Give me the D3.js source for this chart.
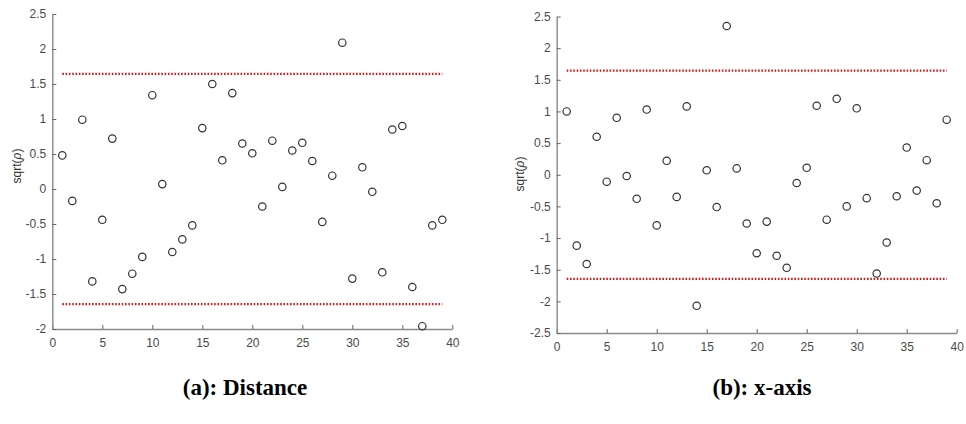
<!DOCTYPE html>
<html>
<head>
<meta charset="utf-8">
<script src="https://cdn.jsdelivr.net/npm/d3@7"></script>
<style>
  html, body { margin: 0; padding: 0; background: #fff; }
  svg { display: block; }
</style>
</head>
<body>
<svg id="fig" width="966" height="424"></svg>
<script>
// Observation index (1..39) shared by both panels
const idx = d3.range(1, 40);

// Panel (a): Distance
const distanceVals = [
  0.48, -0.17, 0.99, -1.32, -0.44, 0.72, -1.43, -1.21, -0.97, 1.34,
  0.07, -0.90, -0.72, -0.52, 0.87, 1.50, 0.41, 1.37, 0.65, 0.51,
  -0.25, 0.69, 0.03, 0.55, 0.66, 0.40, -0.47, 0.19, 2.09, -1.28,
  0.31, -0.04, -1.19, 0.85, 0.90, -1.40, -1.96, -0.52, -0.44
];

// Panel (b): x-axis
const xAxisVals = [
  1.00, -1.12, -1.41, 0.60, -0.11, 0.90, -0.02, -0.38, 1.03, -0.80,
  0.22, -0.35, 1.08, -2.07, 0.07, -0.51, 2.35, 0.10, -0.77, -1.24,
  -0.74, -1.28, -1.47, -0.13, 0.11, 1.09, -0.71, 1.20, -0.50, 1.05,
  -0.37, -1.56, -1.07, -0.34, 0.43, -0.25, 0.23, -0.45, 0.87
];

// Control limits (±1.645) drawn from x = 1 to x = 39
const limits = [1.645, -1.645];
const limitSpan = [1, 39];

const xTicks = [0, 5, 10, 15, 20, 25, 30, 35, 40];
const yTicksA = [-2, -1.5, -1, -0.5, 0, 0.5, 1, 1.5, 2, 2.5];
const yTicksB = [-2.5, -2, -1.5, -1, -0.5, 0, 0.5, 1, 1.5, 2, 2.5];

const captions = ["(a): Distance", "(b): x-axis"];

const svg = d3.select("#fig");

const panels = [
  { vals: distanceVals, yDomain: [-2, 2.5], yTicks: yTicksA, caption: captions[0],
    x0: 52.3, x1: 452.3, yBot: 329, yTop: 14, labelX: 21, labelY: 166, capX: 245 },
  { vals: xAxisVals, yDomain: [-2.5, 2.5], yTicks: yTicksB, caption: captions[1],
    x0: 556.7, x1: 956.7, yBot: 333, yTop: 16.5, labelX: 524, labelY: 174, capX: 762 }
];

const fmt = d => String(d);

panels.forEach(p => {
  const x = d3.scaleLinear().domain([0, 40]).range([p.x0, p.x1]);
  const y = d3.scaleLinear().domain(p.yDomain).range([p.yBot, p.yTop]);
  const g = svg.append("g");

  // Axes: MATLAB-style inward ticks, left and bottom only
  const ax = g.append("g")
    .attr("transform", `translate(0,${p.yBot})`)
    .call(d3.axisBottom(x).tickValues(xTicks).tickFormat(fmt)
      .tickSizeInner(-4).tickSizeOuter(0).tickPadding(7));
  const ay = g.append("g")
    .attr("transform", `translate(${p.x0},0)`)
    .call(d3.axisLeft(y).tickValues(p.yTicks).tickFormat(fmt)
      .tickSizeInner(-4).tickSizeOuter(0).tickPadding(6));

  [ax, ay].forEach(a => {
    a.select(".domain").attr("stroke", "#8a8a8a").attr("stroke-width", 1.4);
    a.selectAll(".tick line").attr("stroke", "#666").attr("stroke-width", 1);
    a.selectAll(".tick text")
      .attr("fill", "#4a4a4a")
      .style("font-family", "'Liberation Sans', Arial, sans-serif")
      .style("font-size", "12px");
  });
  ax.selectAll(".tick text").attr("dy", "0.9em");

  // Reference limits as red dotted lines
  g.selectAll("line.limit").data(limits).enter().append("line")
    .attr("class", "limit")
    .attr("x1", x(limitSpan[0])).attr("x2", x(limitSpan[1]))
    .attr("y1", d => y(d)).attr("y2", d => y(d))
    .attr("stroke", "#d81818")
    .attr("stroke-width", 2.2)
    .attr("stroke-dasharray", "1.6,1.7");

  // Observations as open circles
  g.selectAll("circle.obs").data(p.vals).enter().append("circle")
    .attr("class", "obs")
    .attr("cx", (d, i) => x(idx[i]))
    .attr("cy", d => y(d))
    .attr("r", 3.7)
    .attr("fill", "none")
    .attr("stroke", "#333")
    .attr("stroke-width", 1.2);

  // Y label: sqrt(ρ) with italic rho
  const yl = g.append("text")
    .attr("transform", `translate(${p.labelX},${p.labelY}) rotate(-90)`)
    .attr("text-anchor", "middle")
    .attr("fill", "#333")
    .style("font-family", "'Liberation Sans', Arial, sans-serif")
    .style("font-size", "12px");
  yl.append("tspan").text("sqrt(");
  yl.append("tspan").style("font-style", "italic").text("ρ");
  yl.append("tspan").text(")");

  // Caption under the panel
  g.append("text")
    .attr("x", p.capX).attr("y", 395)
    .attr("text-anchor", "middle")
    .attr("fill", "#000")
    .style("font-family", "'Liberation Serif', 'Times New Roman', serif")
    .style("font-weight", "bold")
    .style("font-size", "23px")
    .text(p.caption);
});
</script>
</body>
</html>
